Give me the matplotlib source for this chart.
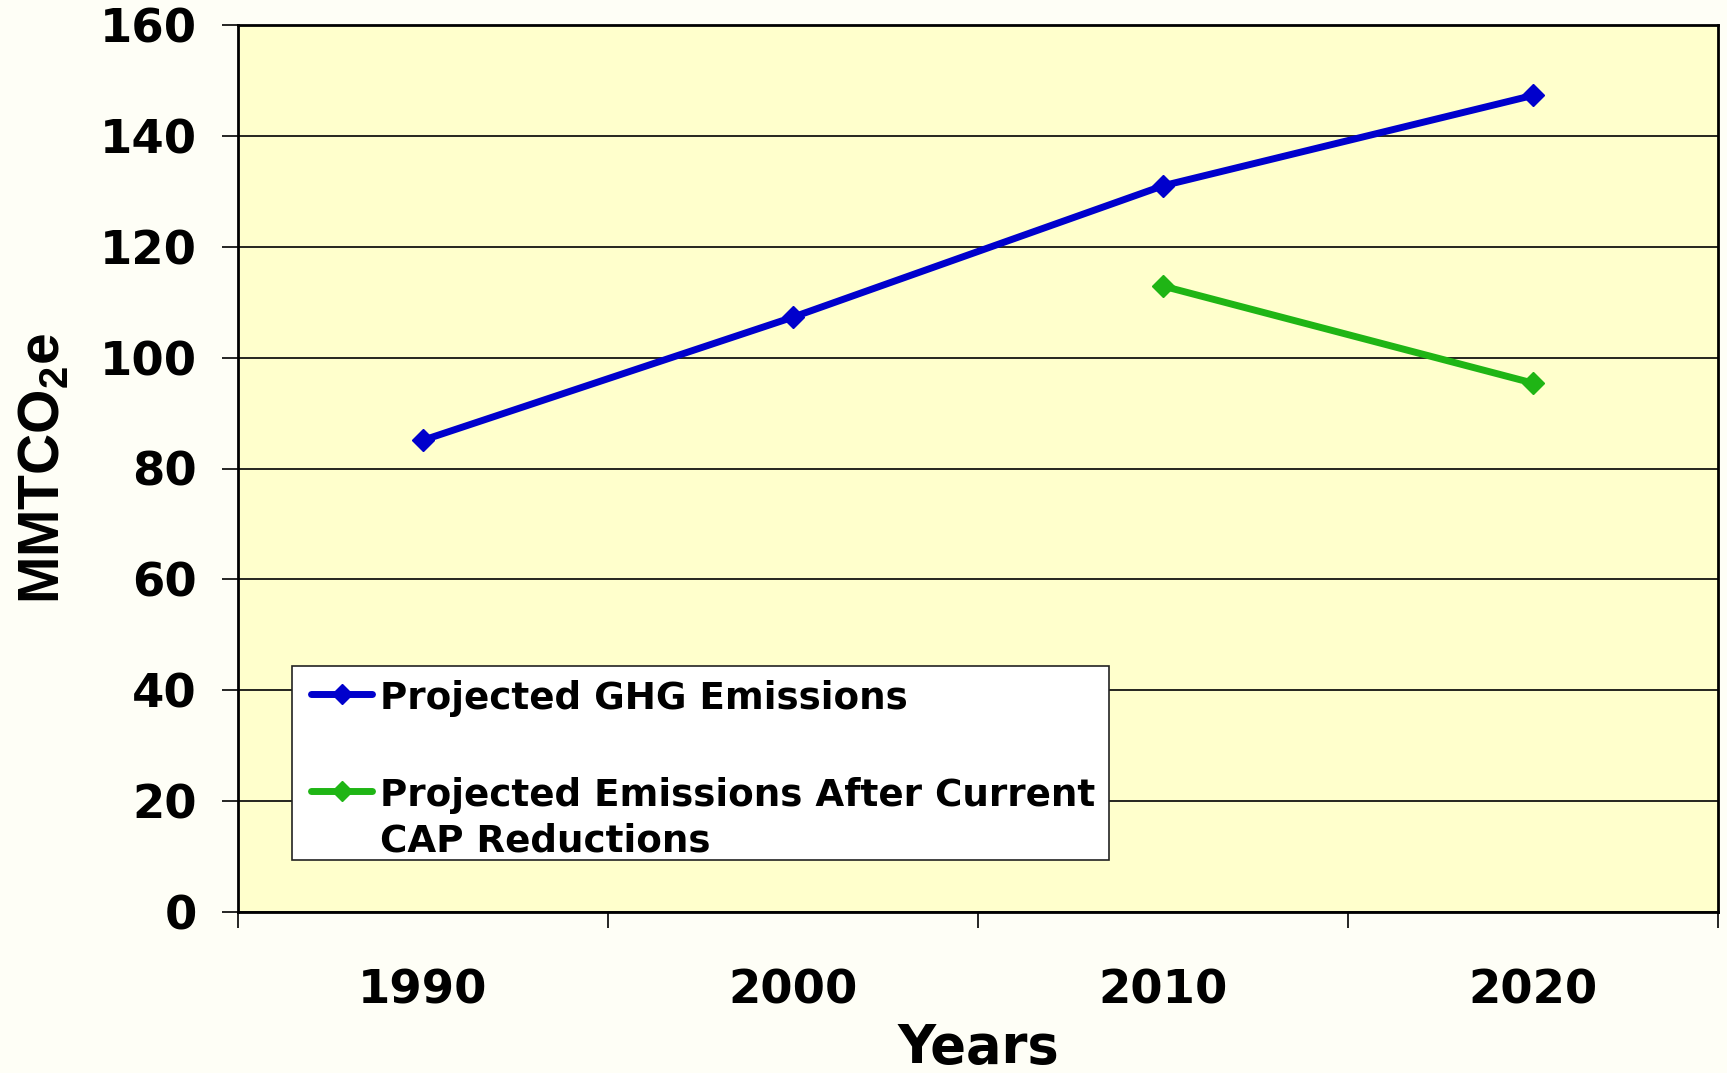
import matplotlib
matplotlib.use("Agg")
import matplotlib.pyplot as plt
from matplotlib.lines import Line2D
from matplotlib.patches import Rectangle

years = ["1990", "2000", "2010", "2020"]
ghg = [85.1, 107.3, 131.0, 147.3]
cap_years = ["2010", "2020"]
cap = [112.9, 95.4]
yticks = [0, 20, 40, 60, 80, 100, 120, 140, 160]

label_ghg = "Projected GHG Emissions"
label_cap = "Projected Emissions After Current\nCAP Reductions"

BLUE = "#0000CC"
GREEN = "#1FB515"

plt.rcParams["mathtext.fontset"] = "custom"
plt.rcParams["mathtext.rm"] = "Liberation Sans:bold"
plt.rcParams["mathtext.default"] = "rm"

W, H = 1727, 1073
fig = plt.figure(figsize=(W / 100, H / 100), dpi=100, facecolor="#FEFEF6")
L, R, T, B = 238, 1718, 25, 912
ax = fig.add_axes([L / W, 1 - B / H, (R - L) / W, (B - T) / H])
ax.set_facecolor("#FFFFCC")

xpos = {y: i for i, y in enumerate(years)}
ax.plot([xpos[y] for y in years], ghg, color=BLUE, lw=5, marker="D", ms=11,
        zorder=3, solid_joinstyle="round")
ax.plot([xpos[y] for y in cap_years], cap, color=GREEN, lw=5, marker="D", ms=11,
        zorder=3, solid_joinstyle="round")

ax.set_xlim(-0.5, len(years) - 0.5)
ax.set_ylim(0, 160)
ax.set_yticks(yticks)
ax.set_yticklabels([str(v) for v in yticks], fontsize=33.5, fontweight="bold",
                   family="DejaVu Sans")
ax.yaxis.grid(True, color="black", lw=1.2)
ax.set_axisbelow(True)
ax.tick_params(axis="y", length=11.5, width=1.2, pad=18)

ax.set_xticks([i - 0.5 for i in range(len(years) + 1)])
ax.set_xticklabels([])
ax.set_xticks(range(len(years)), minor=True)
ax.set_xticklabels(years, minor=True, fontsize=33.5, fontweight="bold",
                   family="DejaVu Sans")
ax.tick_params(axis="x", which="major", length=11.5, width=1.2)
ax.tick_params(axis="x", which="minor", length=0, pad=41)

for s in ax.spines.values():
    s.set_linewidth(2)
    s.set_color("black")

ax.set_xlabel("Years", fontsize=38, fontweight="bold", family="DejaVu Sans",
              labelpad=6)
ax.set_ylabel("MMTCO$_2$e", fontsize=41, family="Liberation Sans",
              fontweight="bold")
ax.yaxis.set_label_coords((71 - L) / (R - L), 0.5)


def fx(px):
    return px / W


def fy(py):
    return 1 - py / H


# legend box (drawn manually to keep handle aligned to first text line)
box = Rectangle((fx(292), fy(860)), fx(1109) - fx(292), fy(666) - fy(860),
                transform=fig.transFigure, facecolor="white", edgecolor="#222222",
                lw=1.2, zorder=10)
fig.add_artist(box)
for color, label, ycen in [(BLUE, label_ghg, 694), (GREEN, label_cap, 791)]:
    fig.add_artist(Line2D([fx(311), fx(372)], [fy(ycen), fy(ycen)],
                          transform=fig.transFigure, color=color, lw=5,
                          solid_capstyle="round", zorder=11))
    fig.add_artist(Line2D([fx(341.5)], [fy(ycen)], transform=fig.transFigure,
                          color=color, marker="D", ms=10, lw=0, zorder=12))
    fig.text(fx(380), fy(ycen - 14), label, fontsize=26.8, fontweight="bold",
             family="DejaVu Sans", va="top", ha="left", linespacing=1.28,
             zorder=12)

fig.savefig("out.png", dpi=100, facecolor=fig.get_facecolor())
